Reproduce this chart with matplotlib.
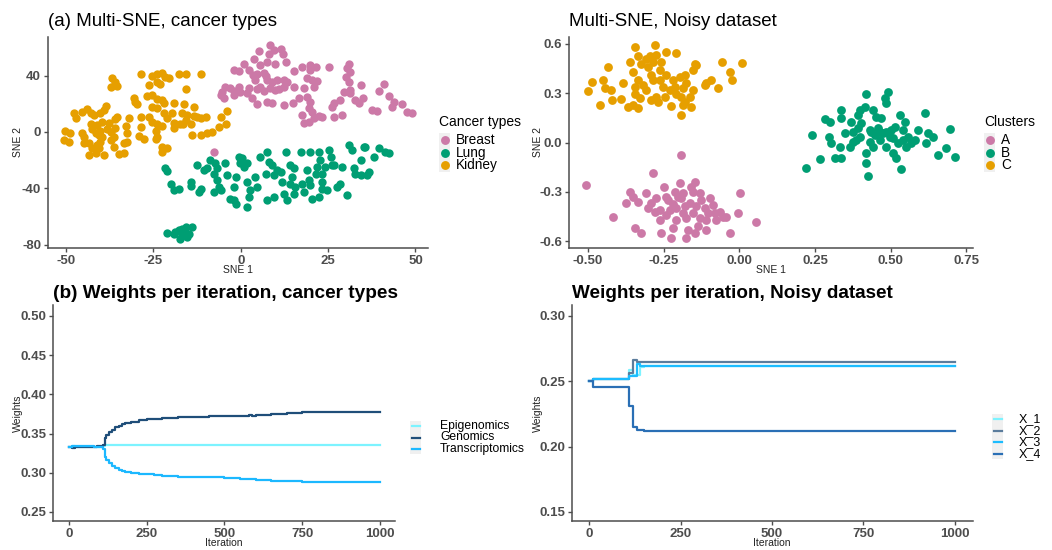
import matplotlib
matplotlib.use('Agg')
import matplotlib.pyplot as plt
from matplotlib.patches import Rectangle
from matplotlib.lines import Line2D

plt.rcParams['font.family'] = ['Liberation Sans', 'DejaVu Sans']
plt.rcParams['axes.unicode_minus'] = False

# ---------------- data: panel (a) cancer types ----------------
cancer_types = ['Breast', 'Lung', 'Kidney']
cancer_colors = ['#CC79A7', '#009E73', '#E69F00']

breast_x = [8.5, 9.4, 8.0, 5.2, 11.4, 12.1, 12.8, 9.9, 7.5, 5.6, 3.7, 0.9, -2.0, -0.6, 2.3, 3.5, 4.7, 6.6, 7.1, 4.2,
            7.5, 5.6, 9.0, 10.4, 12.3, 13.3, 15.2, 17.6, 19.8, 21.4, 19.9, 25.2, 19.0, 20.4, 21.9, 18.0, 20.9, 15.2, 12.3, 10.9,
            9.9, 8.5, 6.6, 4.7, 2.3, -0.6, -2.0, -3.0, -4.4, -5.3, -5.8, -4.9, -2.0, -0.1, 1.8, 3.2, 4.7, 7.5, 9.0, 12.3,
            15.0, 16.6, 19.0, 19.9, 19.5, 20.4, 22.3, 20.9, 17.6, 18.0, 19.5, 23.3, 26.6, 29.0, 26.1, 26.6, 30.9, 30.4, 31.4, 30.0,
            30.9, 31.4, 29.5, 31.4, 32.8, 33.8, 34.3, 35.0, 37.6, 39.0, 39.5, 40.9, 42.4, 43.8, 43.3, 46.2, 47.6, 49.0, 28.5, -7.7]
breast_y = [61.5, 57.9, 55.6, 57.4, 59.1, 55.1, 49.7, 48.5, 49.7, 47.3, 52.0, 48.5, 44.2, 43.3, 44.2, 40.2, 40.9, 41.9, 39.5, 36.7,
            36.7, 32.0, 35.5, 36.7, 36.7, 35.5, 43.3, 46.1, 47.3, 46.1, 43.8, 45.7, 37.9, 36.7, 36.2, 30.8, 31.5, 31.5, 32.0, 30.1,
            29.6, 30.8, 29.2, 30.1, 30.8, 31.5, 29.2, 30.8, 32.0, 28.5, 26.1, 23.7, 26.1, 28.5, 27.3, 23.7, 19.7, 21.4, 20.2, 19.0,
            20.7, 23.7, 24.9, 21.4, 16.7, 14.3, 11.2, 9.6, 12.0, 6.1, 7.2, 10.8, 10.8, 12.0, 17.8, 20.2, 48.0, 45.0, 42.6, 38.6,
            35.5, 29.6, 28.5, 27.3, 22.6, 20.2, 33.2, 24.4, 15.5, 14.8, 29.2, 34.3, 25.4, 21.4, 17.8, 19.7, 14.3, 13.1, 22.6, -14.0]

lung_x = [-21.6, -21.1, -20.1, -19.2, -17.7, -14.4, -14.4, -12.5, -12.0, -11.5, -10.6, -9.6, -8.7, -7.3, -7.7, -6.8, -6.3, -5.8, -7.7, -4.4,
          -3.9, -3.0, -2.0, -1.5, -0.6, -0.1, 0.9, 1.8, -1.5, 1.8, 2.6, 2.3, 1.8, 4.2, 5.6, 4.7, 7.1, 7.5, 8.0, 9.0,
          9.4, 10.4, 9.4, 7.5, 11.4, 11.8, 12.3, 13.3, 12.8, 14.2, 15.2, 14.7, 14.2, 15.6, 15.2, 17.1, 17.6, 18.0, 19.0, 19.9,
          19.5, 19.9, 21.4, 21.9, 22.3, 22.8, 23.3, 24.2, 24.7, 25.2, 25.7, 26.1, 27.6, 28.5, 29.0, 30.4, 30.9, 31.9, 32.3, 32.8,
          34.3, 35.2, 34.3, 35.7, 36.2, 36.6, 38.1, 39.5, 41.4, 42.4, 20.4, 22.3, 23.3, -2.0, 0.4, -6.8, 23.3, 26.6,
          -21.1, -19.2, -17.7, -16.8, -15.8, -17.3, -18.7, -14.9, -13.9, -16.3, -16.8, -15.4]
lung_y = [-25.9, -27.5, -36.6, -41.4, -40.2, -35.4, -38.5, -23.5, -42.6, -40.2, -27.1, -25.9, -19.9, -22.3, -29.5, -34.2, -39.0, -41.4, -42.6, -22.3,
          -30.7, -47.3, -48.5, -50.9, -17.5, -22.3, -24.7, -22.3, -31.8, -35.4, -41.4, -46.1, -53.2, -31.8, -17.5, -39.0, -29.5, -14.0, -21.1, -23.5,
          -30.7, -27.1, -46.1, -48.5, -28.3, -35.4, -43.8, -48.5, -14.0, -23.5, -25.9, -31.8, -36.6, -39.0, -43.8, -14.0, -36.6, -42.6, -27.1, -14.0,
          -34.2, -37.8, -29.5, -24.7, -14.0, -19.9, -35.4, -24.7, -41.4, -12.8, -17.5, -23.5, -39.0, -36.6, -24.7, -44.9, -9.3, -12.8, -25.9, -29.5,
          -19.9, -10.4, -30.7, -10.4, -30.7, -28.3, -17.5, -11.6, -14.0, -15.2, -47.3, -46.1, -40.2, -39.0, -18.7, -25.9, -29.5, -23.5,
          -71.6, -72.1, -69.7, -73.3, -67.4, -75.7, -70.9, -72.1, -67.4, -70.9, -68.5, -74.5]

kidney_x = [-36.8, -35.9, -37.3, -35.4, -28.7, -25.4, -24.0, -22.5, -21.6, -20.6, -23.0, -24.0, -26.3, -17.7, -15.8, -11.5, -15.6, -30.6, -30.2, -29.7,
            -26.8, -25.4, -24.0, -22.5, -22.0, -19.2, -16.3, -25.4, -24.0, -22.0, -19.7, -16.8, -13.5, -15.4, -13.3, -11.5, -10.1, -5.8, -3.9, -47.8,
            -47.3, -45.4, -44.0, -43.0, -42.1, -40.2, -39.2, -38.7, -35.4, -35.9, -32.1, -28.7, -26.3, -25.4, -24.0, -22.5, -21.1, -19.2, -17.3, -15.8,
            -14.4, -12.5, -50.2, -48.8, -50.7, -49.2, -45.4, -44.9, -43.0, -42.6, -41.1, -40.2, -40.6, -41.6, -39.7, -37.8, -38.3, -37.3, -35.9, -33.0,
            -32.7, -28.7, -29.2, -27.8, -24.4, -24.0, -24.4, -19.2, -18.7, -16.5, -13.9, -11.5, -9.6, -8.2, -6.3, -4.1, -44.9, -43.5, -42.6, -41.1,
            -40.2, -39.7, -37.3, -36.4, -36.4, -33.5, -32.5, -34.9, -33.5, -43.5, -41.6, -40.6, -39.2, -22.5, -22.5, -21.1]
kidney_y = [37.9, 35.5, 31.5, 32.5, 40.9, 39.5, 40.9, 41.9, 39.1, 37.9, 34.3, 35.5, 33.2, 40.9, 40.9, 40.9, 30.1, 23.7, 21.4, 19.7,
            25.4, 26.1, 23.0, 22.6, 20.2, 20.7, 19.7, 17.8, 16.7, 13.1, 13.1, 13.6, 17.4, 12.0, 11.2, 9.6, 10.3, 10.3, 15.0, 13.6,
            9.6, 14.3, 16.0, 13.1, 12.0, 13.1, 15.5, 18.3, 10.8, 8.9, 9.6, 10.3, 10.8, 7.2, 5.6, 4.2, 9.6, 6.5, 5.6, 8.4,
            5.6, 10.3, 0.9, -1.0, -5.7, -6.9, -0.5, -3.4, 5.6, 1.8, 4.9, 0.9, -2.2, -1.0, 7.2, 6.1, 1.8, 0.2, 2.5, 4.2,
            -0.5, 3.2, -2.9, -5.3, 0.9, -3.4, -5.3, 2.5, 5.6, 5.6, -2.2, -2.2, -0.5, 0.2, 3.2, 5.6, -8.1, -8.1, -11.6, -9.3,
            -6.9, -3.4, -5.7, -3.4, -10.4, -7.6, -6.9, -15.6, -15.2, -16.3, -15.2, -11.6, -16.3, -10.4, -14.0, -11.6]

# ---------------- data: panel (a) noisy dataset ----------------
clusters = ['A', 'B', 'C']

a_x = [-0.506, -0.417, -0.373, -0.362, -0.351, -0.346, -0.335, -0.324, -0.307, -0.302, -0.291, -0.285, -0.280, -0.274, -0.263, -0.258,
       -0.250, -0.241, -0.236, -0.230, -0.219, -0.219, -0.214, -0.208, -0.197, -0.194, -0.192, -0.186, -0.181, -0.175, -0.170, -0.164,
       -0.159, -0.153, -0.148, -0.142, -0.137, -0.131, -0.126, -0.115, -0.109, -0.104, -0.098, -0.087, -0.076, -0.065, -0.054, -0.043,
       -0.032, -0.004, 0.001, 0.056, -0.225, -0.175, -0.203, -0.241, -0.186, -0.153, -0.131, -0.082, -0.148, -0.109, -0.263, -0.208]
a_y = [-0.257, -0.449, -0.364, -0.298, -0.328, -0.519, -0.358, -0.550, -0.304, -0.398, -0.368, -0.183, -0.419, -0.338, -0.408, -0.550,
       -0.271, -0.439, -0.348, -0.408, -0.519, -0.372, -0.298, -0.469, -0.247, -0.076, -0.338, -0.429, -0.388, -0.459, -0.529, -0.368,
       -0.267, -0.298, -0.237, -0.388, -0.509, -0.459, -0.348, -0.398, -0.529, -0.429, -0.338, -0.378, -0.469, -0.419, -0.449, -0.449,
       -0.546, -0.429, -0.308, -0.485, -0.580, -0.580, -0.328, -0.328, -0.308, -0.429, -0.308, -0.429, -0.550, -0.469, -0.469, -0.398]

b_x = [0.221, 0.241, 0.265, 0.282, 0.298, 0.296, 0.304, 0.315, 0.331, 0.337, 0.337, 0.337, 0.348, 0.365, 0.370, 0.376,
       0.387, 0.392, 0.398, 0.398, 0.403, 0.414, 0.420, 0.420, 0.420, 0.425, 0.431, 0.436, 0.442, 0.447, 0.453, 0.458,
       0.464, 0.469, 0.475, 0.480, 0.486, 0.491, 0.486, 0.497, 0.502, 0.508, 0.513, 0.519, 0.524, 0.530, 0.535, 0.541,
       0.546, 0.552, 0.557, 0.568, 0.579, 0.590, 0.612, 0.616, 0.623, 0.640, 0.656, 0.682, 0.697, 0.711, 0.392, 0.431,
       0.464, 0.508, 0.376, 0.442, 0.486, 0.541]
b_y = [-0.156, 0.045, -0.102, 0.140, 0.126, 0.035, -0.001, -0.096, -0.025, 0.197, 0.146, -0.096, 0.055, -0.025, 0.126, 0.066,
       0.015, 0.166, 0.197, 0.035, 0.116, 0.217, 0.297, -0.066, -0.126, -0.203, 0.005, 0.066, 0.197, 0.045, 0.156, 0.086,
       0.015, 0.146, 0.055, 0.267, 0.237, 0.308, -0.025, 0.035, 0.076, -0.066, 0.096, -0.096, -0.005, 0.166, -0.162, 0.076,
       0.126, -0.025, 0.035, -0.005, 0.015, 0.076, 0.176, -0.005, 0.055, 0.035, -0.076, -0.035, 0.082, -0.086, 0.086, 0.076,
       0.066, 0.025, 0.005, -0.025, 0.066, 0.015]

c_x = [-0.500, -0.486, -0.450, -0.434, -0.445, -0.423, -0.420, -0.461, -0.390, -0.362, -0.346, -0.335, -0.324, -0.351, -0.335, -0.346,
       -0.346, -0.329, -0.351, -0.368, -0.335, -0.318, -0.307, -0.302, -0.296, -0.285, -0.291, -0.280, -0.274, -0.258, -0.241, -0.208,
       -0.263, -0.252, -0.274, -0.291, -0.269, -0.247, -0.230, -0.219, -0.214, -0.208, -0.197, -0.181, -0.175, -0.186, -0.192, -0.181,
       -0.186, -0.192, -0.225, -0.159, -0.164, -0.153, -0.153, -0.148, -0.142, -0.115, -0.109, -0.093, -0.070, -0.059, -0.032, -0.026,
       0.010, -0.285, -0.263, -0.241, -0.307, -0.384]
c_y = [0.314, 0.368, 0.378, 0.459, 0.328, 0.318, 0.257, 0.227, 0.261, 0.489, 0.580, 0.523, 0.479, 0.429, 0.378, 0.338,
       0.297, 0.267, 0.227, 0.213, 0.207, 0.348, 0.509, 0.459, 0.523, 0.489, 0.408, 0.590, 0.529, 0.489, 0.550, 0.544,
       0.378, 0.338, 0.277, 0.257, 0.247, 0.277, 0.318, 0.378, 0.338, 0.297, 0.398, 0.408, 0.358, 0.328, 0.277, 0.247,
       0.227, 0.166, 0.221, 0.217, 0.277, 0.318, 0.439, 0.479, 0.469, 0.348, 0.362, 0.378, 0.328, 0.489, 0.429, 0.378,
       0.483, 0.378, 0.439, 0.408, 0.318, 0.358]

# ---------------- data: weights per iteration ----------------
views_cancer = ['Epigenomics', 'Genomics', 'Transcriptomics']
views_cancer_colors = ['#7DF3FF', '#1F4E79', '#1CB8FF']
iter_cancer = [0, 10, 20, 80, 90, 110, 115, 120, 130, 140, 150, 160, 170, 180, 200, 225,
               250, 275, 300, 350, 400, 450, 500, 550, 580, 590, 600, 650, 700, 750, 800, 1000]
w_epigenomics = [0.333, 0.334, 0.333, 0.333, 0.333, 0.334, 0.335, 0.336, 0.336, 0.336, 0.336, 0.335, 0.336, 0.335, 0.336, 0.335,
                 0.335, 0.335, 0.335, 0.335, 0.335, 0.335, 0.335, 0.335, 0.335, 0.336, 0.335, 0.335, 0.335, 0.335, 0.335, 0.335]
w_genomics = [0.333, 0.332, 0.333, 0.333, 0.334, 0.336, 0.345, 0.348, 0.352, 0.355, 0.358, 0.360, 0.362, 0.363, 0.365, 0.367,
              0.368, 0.369, 0.370, 0.371, 0.371, 0.372, 0.372, 0.373, 0.374, 0.372, 0.374, 0.375, 0.376, 0.377, 0.378, 0.378]
w_transcriptomics = [0.333, 0.334, 0.334, 0.333, 0.333, 0.330, 0.320, 0.316, 0.312, 0.309, 0.306, 0.304, 0.302, 0.301, 0.300, 0.299,
                     0.298, 0.297, 0.296, 0.295, 0.294, 0.294, 0.293, 0.292, 0.292, 0.292, 0.291, 0.290, 0.289, 0.288, 0.288, 0.288]

views_noisy = ['X_1', 'X_2', 'X_3', 'X_4']
views_noisy_colors = ['#7DF3FF', '#5B7C9C', '#1CBCFF', '#2A6FB5']
iter_noisy = [0, 10, 110, 115, 120, 130, 140, 150, 160, 1000]
w_x1 = [0.250, 0.252, 0.259, 0.259, 0.255, 0.255, 0.261, 0.262, 0.262, 0.262]
w_x2 = [0.250, 0.252, 0.256, 0.256, 0.266, 0.265, 0.265, 0.265, 0.265, 0.265]
w_x3 = [0.250, 0.252, 0.254, 0.254, 0.254, 0.263, 0.262, 0.262, 0.262, 0.262]
w_x4 = [0.250, 0.246, 0.231, 0.231, 0.215, 0.213, 0.213, 0.212, 0.212, 0.212]

# ---------------- figure ----------------
W, H = 1052, 550
fig = plt.figure(figsize=(W / 100, H / 100), dpi=100)
AX_COL = '#4d4d4d'


def add_ax(l, t, r, b):
    return fig.add_axes([l / W, 1 - b / H, (r - l) / W, (b - t) / H])


def fx(x):
    return x / W


def fy(y):
    return 1 - y / H


def style(ax, xt, xl, yt, yl):
    for s in ['top', 'right']:
        ax.spines[s].set_visible(False)
    for s in ['left', 'bottom']:
        ax.spines[s].set_color(AX_COL)
        ax.spines[s].set_linewidth(1.1)
    ax.set_xticks(xt)
    ax.set_xticklabels(xl, fontweight='bold', fontsize=9.5, color=AX_COL)
    ax.set_yticks(yt)
    ax.set_yticklabels(yl, fontweight='bold', fontsize=9.5, color=AX_COL)
    ax.tick_params(length=3, width=1, color=AX_COL, pad=2)


# panel (a) left
ax1 = add_ax(48, 37, 428, 248)
for xs, ys, col in zip([breast_x, lung_x, kidney_x], [breast_y, lung_y, kidney_y], cancer_colors):
    ax1.scatter(xs, ys, s=36, color=col, linewidths=0)
ax1.set_xlim(-55.2, 53.6)
ax1.set_ylim(-82.3, 67.3)
style(ax1, [-50, -25, 0, 25, 50], ['-50', '-25', '0', '25', '50'], [-80, -40, 0, 40], ['-80', '-40', '0', '40'])
fig.text(fx(238), fy(270), 'SNE 1', ha='center', va='center', fontsize=7.5, color='#222222')
fig.text(fx(18), fy(142), 'SNE 2', ha='center', va='center', rotation=90, fontsize=7.5, color='#222222')
fig.text(fx(48), fy(26), '(a) Multi-SNE, cancer types', fontsize=13.5, va='baseline', color='black')

# panel (a) right
ax2 = add_ax(569, 37, 973, 248)
for xs, ys, col in zip([a_x, b_x, c_x], [a_y, b_y, c_y], cancer_colors):
    ax2.scatter(xs, ys, s=40, color=col, linewidths=0)
ax2.set_xlim(-0.563, 0.772)
ax2.set_ylim(-0.640, 0.640)
style(ax2, [-0.5, -0.25, 0, 0.25, 0.5, 0.75], ['-0.50', '-0.25', '0.00', '0.25', '0.50', '0.75'],
      [-0.6, -0.3, 0, 0.3, 0.6], ['-0.6', '-0.3', '0.0', '0.3', '0.6'])
fig.text(fx(771), fy(270), 'SNE 1', ha='center', va='center', fontsize=7.5, color='#222222')
fig.text(fx(538), fy(142), 'SNE 2', ha='center', va='center', rotation=90, fontsize=7.5, color='#222222')
fig.text(fx(569), fy(26), 'Multi-SNE, Noisy dataset', fontsize=13.5, va='baseline', color='black')


# scatter legends
def scatter_legend(title, labels, colors, x0, y_title, ys, xtext):
    fig.text(fx(x0), fy(y_title), title, fontsize=10, va='center', ha='left', color='black')
    fig.add_artist(Rectangle((fx(x0), fy(ys[-1] + 7)), 11 / W, (ys[-1] - ys[0] + 14) / H,
                             transform=fig.transFigure, facecolor='#f0f0f0', edgecolor='none'))
    for lab, col, yy in zip(labels, colors, ys):
        fig.add_artist(Line2D([fx(x0 + 5.5)], [fy(yy)], marker='o', markersize=6.4, color=col,
                              markeredgewidth=0, linestyle='none', transform=fig.transFigure))
        fig.text(fx(xtext), fy(yy), lab, fontsize=9.8, va='center', ha='left', color='black')


scatter_legend('Cancer types', cancer_types, cancer_colors, 439, 122, [140, 152.5, 165], 456)
scatter_legend('Clusters', clusters, cancer_colors, 984, 122, [140, 152.5, 165], 1001)

# panel (b) left
ax3 = add_ax(53, 305, 395, 521)
for ys, col in zip([w_epigenomics, w_genomics, w_transcriptomics], views_cancer_colors):
    ax3.plot(iter_cancer, ys, drawstyle='steps-post', color=col, lw=1.6)
ax3.set_xlim(-50.5, 1048)
ax3.set_ylim(0.2385, 0.514)
style(ax3, [0, 250, 500, 750, 1000], ['0', '250', '500', '750', '1000'],
      [0.25, 0.30, 0.35, 0.40, 0.45, 0.50], ['0.25', '0.30', '0.35', '0.40', '0.45', '0.50'])
fig.text(fx(224), fy(543), 'Iteration', ha='center', va='center', fontsize=7.5, color='#222222')
fig.text(fx(18), fy(413), 'Weights', ha='center', va='center', rotation=90, fontsize=7.5, color='#222222')
fig.text(fx(53), fy(298), '(b) Weights per iteration, cancer types', fontsize=13.7, fontweight='bold',
         va='baseline', color='black')

# panel (b) right
ax4 = add_ax(572, 305, 973, 521)
for ys, col in zip([w_x1, w_x2, w_x3, w_x4], views_noisy_colors):
    ax4.plot(iter_noisy, ys, drawstyle='steps-post', color=col, lw=1.6)
ax4.set_xlim(-47, 1050)
ax4.set_ylim(0.1431, 0.3084)
style(ax4, [0, 250, 500, 750, 1000], ['0', '250', '500', '750', '1000'],
      [0.15, 0.20, 0.25, 0.30], ['0.15', '0.20', '0.25', '0.30'])
fig.text(fx(772), fy(543), 'Iteration', ha='center', va='center', fontsize=7.5, color='#222222')
fig.text(fx(538), fy(413), 'Weights', ha='center', va='center', rotation=90, fontsize=7.5, color='#222222')
fig.text(fx(572), fy(298), 'Weights per iteration, Noisy dataset', fontsize=13.6, fontweight='bold',
         va='baseline', color='black')


def line_legend(labels, colors, x0, ys, xtext, fs):
    fig.add_artist(Rectangle((fx(x0), fy(ys[-1] + 5)), 11 / W, (ys[-1] - ys[0] + 10) / H,
                             transform=fig.transFigure, facecolor='#f0f0f0', edgecolor='none'))
    for lab, col, yy in zip(labels, colors, ys):
        fig.add_artist(Line2D([fx(x0 + 1.5), fx(x0 + 9.5)], [fy(yy), fy(yy)], color=col, lw=1.6,
                              transform=fig.transFigure))
        fig.text(fx(xtext), fy(yy), lab, fontsize=fs, va='center', ha='left', color='black')


line_legend(views_cancer, views_cancer_colors, 410, [426, 437.5, 449], 440, 8.7)
line_legend(views_noisy, views_noisy_colors, 992, [419, 431, 442, 454], 1019, 9)

fig.savefig('out.png', dpi=100)
